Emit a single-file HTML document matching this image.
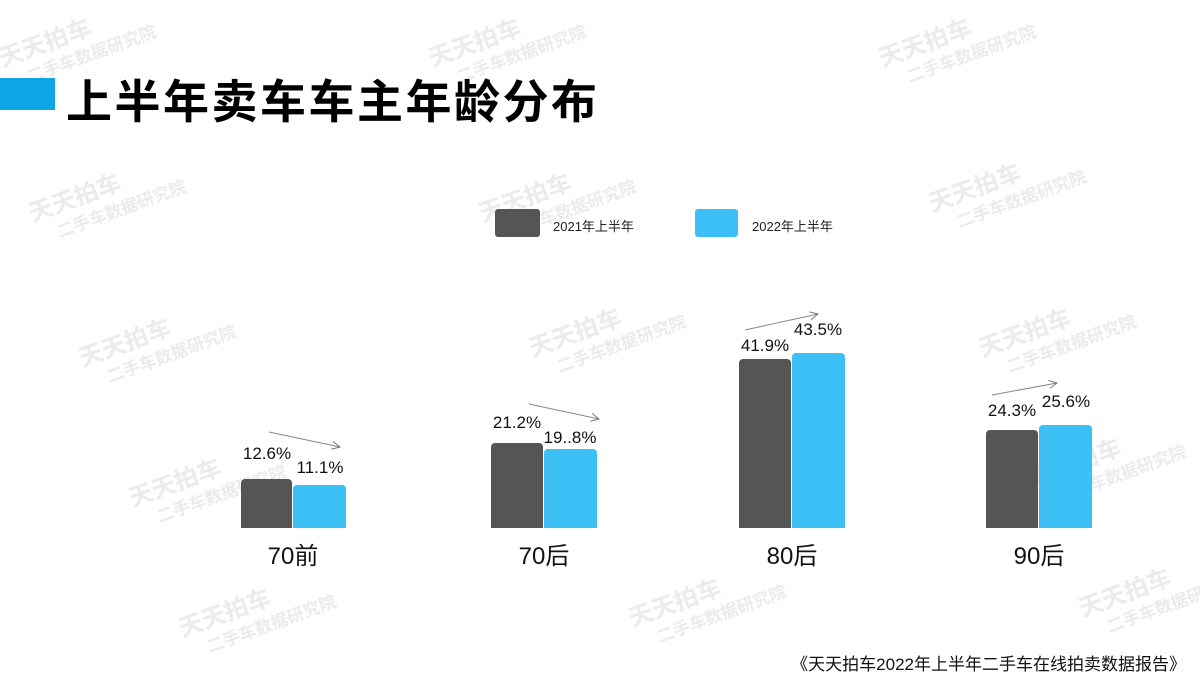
<!DOCTYPE html>
<html><head><meta charset="utf-8"><style>
body{margin:0;width:1200px;height:675px;background:#fff;position:relative;overflow:hidden;font-family:"Liberation Sans","Noto Sans CJK SC",sans-serif}
.a{position:absolute}
.wm{position:absolute;color:#ebebeb;font-weight:bold;transform:rotate(-20deg);font-size:24px;line-height:26px;white-space:nowrap}
.wm span{font-size:17px;display:block;margin-left:20px}
.v{position:absolute;font-size:17px;color:#111;width:80px;text-align:center}
.c{position:absolute;font-size:24px;color:#111;width:100px;text-align:center}
</style></head><body>
<div class="wm" style="left:0;top:20px">天天拍车<span>二手车数据研究院</span></div>
<div class="wm" style="left:430px;top:20px">天天拍车<span>二手车数据研究院</span></div>
<div class="wm" style="left:880px;top:20px">天天拍车<span>二手车数据研究院</span></div>
<div class="wm" style="left:30px;top:175px">天天拍车<span>二手车数据研究院</span></div>
<div class="wm" style="left:480px;top:175px">天天拍车<span>二手车数据研究院</span></div>
<div class="wm" style="left:930px;top:165px">天天拍车<span>二手车数据研究院</span></div>
<div class="wm" style="left:80px;top:320px">天天拍车<span>二手车数据研究院</span></div>
<div class="wm" style="left:530px;top:310px">天天拍车<span>二手车数据研究院</span></div>
<div class="wm" style="left:980px;top:310px">天天拍车<span>二手车数据研究院</span></div>
<div class="wm" style="left:130px;top:460px">天天拍车<span>二手车数据研究院</span></div>
<div class="wm" style="left:1030px;top:440px">天天拍车<span>二手车数据研究院</span></div>
<div class="wm" style="left:180px;top:590px">天天拍车<span>二手车数据研究院</span></div>
<div class="wm" style="left:630px;top:580px">天天拍车<span>二手车数据研究院</span></div>
<div class="wm" style="left:1080px;top:570px">天天拍车<span>二手车数据研究院</span></div>

<div class="a" style="left:0;top:78px;width:55px;height:32px;background:#0ea5e4"></div>
<div class="a" style="left:66px;top:66px;font-size:46px;font-weight:bold;color:#000;letter-spacing:2.5px;white-space:nowrap">上半年卖车车主年龄分布</div>

<div class="a" style="left:495px;top:209px;width:45px;height:28px;background:#555;border-radius:3px"></div>
<div class="a" style="left:553px;top:216px;font-size:13px;color:#222">2021年上半年</div>
<div class="a" style="left:695px;top:209px;width:43px;height:28px;background:#3cc0f5;border-radius:3px"></div>
<div class="a" style="left:752px;top:216px;font-size:13px;color:#222">2022年上半年</div>

<div class="a" style="left:241px;top:479px;width:51px;height:49px;background:#555;border-radius:4px 4px 0 0"></div>
<div class="a" style="left:293px;top:485px;width:53px;height:43px;background:#3cc0f5;border-radius:4px 4px 0 0"></div>
<div class="a" style="left:491px;top:443px;width:52px;height:85px;background:#555;border-radius:4px 4px 0 0"></div>
<div class="a" style="left:544px;top:449px;width:53px;height:79px;background:#3cc0f5;border-radius:4px 4px 0 0"></div>
<div class="a" style="left:739px;top:359px;width:52px;height:169px;background:#555;border-radius:4px 4px 0 0"></div>
<div class="a" style="left:792px;top:353px;width:53px;height:175px;background:#3cc0f5;border-radius:4px 4px 0 0"></div>
<div class="a" style="left:986px;top:430px;width:52px;height:98px;background:#555;border-radius:4px 4px 0 0"></div>
<div class="a" style="left:1039px;top:425px;width:53px;height:103px;background:#3cc0f5;border-radius:4px 4px 0 0"></div>

<div class="v" style="left:227px;top:444px">12.6%</div>
<div class="v" style="left:280px;top:458px">11.1%</div>
<div class="v" style="left:477px;top:413px">21.2%</div>
<div class="v" style="left:530px;top:428px">19..8%</div>
<div class="v" style="left:725px;top:336px">41.9%</div>
<div class="v" style="left:778px;top:320px">43.5%</div>
<div class="v" style="left:972px;top:401px">24.3%</div>
<div class="v" style="left:1026px;top:392px">25.6%</div>

<div class="c" style="left:243px;top:536px">70前</div>
<div class="c" style="left:494px;top:536px">70后</div>
<div class="c" style="left:742px;top:536px">80后</div>
<div class="c" style="left:989px;top:536px">90后</div>

<svg class="a" style="left:0;top:0" width="1200" height="675">
<defs><marker id="m" markerWidth="10" markerHeight="10" refX="9" refY="5" orient="auto" markerUnits="userSpaceOnUse"><path d="M1,1 L9,5 L1,9" fill="none" stroke="#777" stroke-width="1"/></marker></defs>
<g stroke="#888" stroke-width="1" marker-end="url(#m)">
<line x1="269" y1="432" x2="340" y2="447"/>
<line x1="529" y1="404" x2="599" y2="419"/>
<line x1="745" y1="330" x2="818" y2="314"/>
<line x1="992" y1="395" x2="1057" y2="383"/>
</g></svg>

<div class="a" style="right:14px;top:650px;font-size:17px;color:#111;white-space:nowrap">《天天拍车2022年上半年二手车在线拍卖数据报告》</div>
</body></html>
